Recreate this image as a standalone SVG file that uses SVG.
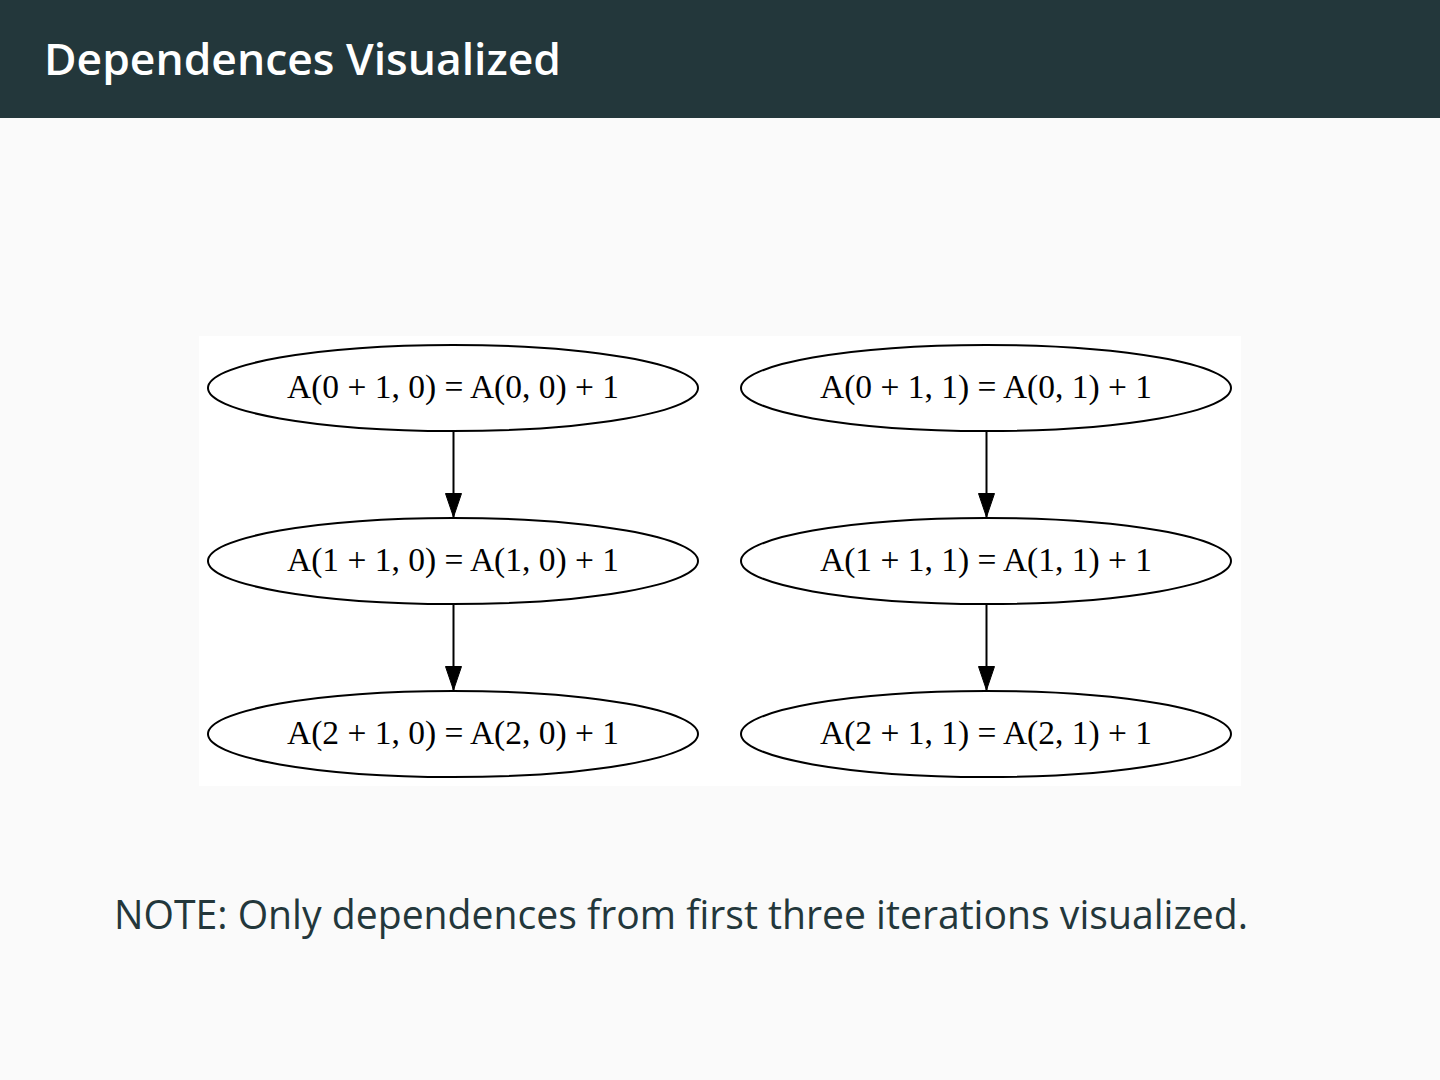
<svg xmlns="http://www.w3.org/2000/svg" width="1440" height="1080" viewBox="0 0 1440 1080">
<style>
.node ellipse{fill:none;stroke:#000;stroke-width:2}
.node text{font-family:"Liberation Serif","Times New Roman",serif;font-size:33.5px;fill:#000;text-anchor:middle}
.edge{stroke:#000;stroke-width:2;fill:none}
</style>
<defs>
<marker id="ah" markerWidth="25" markerHeight="17" refX="24" refY="8.5" orient="auto" markerUnits="userSpaceOnUse" viewBox="0 0 25 17">
<path d="M0.5,0.5 L24,8.5 L0.5,16.5 Z" fill="#000" stroke="#000" stroke-width="1"/>
</marker>
</defs>
<rect width="1440" height="1080" fill="#fafafa"/>
<rect width="1440" height="118" fill="#23373b"/>
<text x="44" y="75" font-family="'Open Sans','Lato','DejaVu Sans',sans-serif" font-weight="600" font-size="44" fill="#ffffff" textLength="517" lengthAdjust="spacingAndGlyphs">Dependences Visualized</text>
<rect x="199" y="336" width="1042" height="450" fill="#ffffff"/>
<g id="connectors">
<line class="edge" x1="453.5" y1="431" x2="453.5" y2="517" marker-end="url(#ah)"/>
<line class="edge" x1="453.5" y1="604" x2="453.5" y2="690" marker-end="url(#ah)"/>
<line class="edge" x1="986.5" y1="431" x2="986.5" y2="517" marker-end="url(#ah)"/>
<line class="edge" x1="986.5" y1="604" x2="986.5" y2="690" marker-end="url(#ah)"/>
</g>
<g id="n00" class="node"><ellipse cx="453" cy="388" rx="245" ry="43"/><text x="453" y="398">A(0 + 1, 0) = A(0, 0) + 1</text></g>
<g id="n10" class="node"><ellipse cx="453" cy="561" rx="245" ry="43"/><text x="453" y="571">A(1 + 1, 0) = A(1, 0) + 1</text></g>
<g id="n20" class="node"><ellipse cx="453" cy="734" rx="245" ry="43"/><text x="453" y="744">A(2 + 1, 0) = A(2, 0) + 1</text></g>
<g id="n01" class="node"><ellipse cx="986" cy="388" rx="245" ry="43"/><text x="986" y="398">A(0 + 1, 1) = A(0, 1) + 1</text></g>
<g id="n11" class="node"><ellipse cx="986" cy="561" rx="245" ry="43"/><text x="986" y="571">A(1 + 1, 1) = A(1, 1) + 1</text></g>
<g id="n21" class="node"><ellipse cx="986" cy="734" rx="245" ry="43"/><text x="986" y="744">A(2 + 1, 1) = A(2, 1) + 1</text></g>
<text x="114" y="929" font-family="'Open Sans','Lato','DejaVu Sans',sans-serif" font-size="40" fill="#23373b" textLength="1134" lengthAdjust="spacingAndGlyphs">NOTE: Only dependences from first three iterations visualized.</text>
</svg>
